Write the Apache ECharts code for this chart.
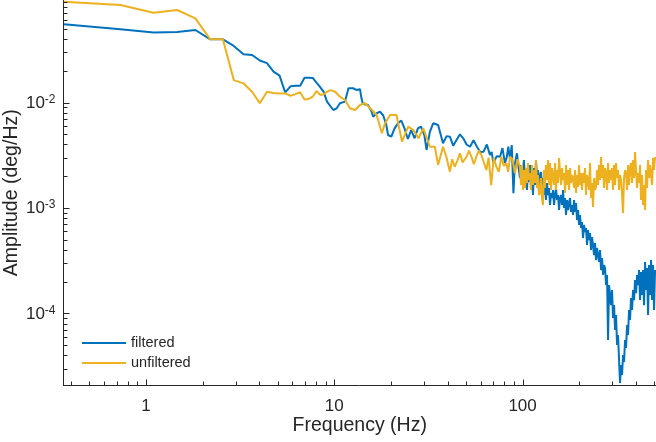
<!DOCTYPE html>
<html>
<head>
<meta charset="utf-8">
<script src="https://cdn.jsdelivr.net/npm/echarts@6/dist/echarts.min.js"></script>
<style>html,body{margin:0;padding:0;background:#fff;}#chart{width:656px;height:442px;}</style>
</head>
<body>
<div id="chart"></div>
<script>
// ---- data ----
const lowFreq = [0.366,0.732,1.098,1.464,1.830,2.196,2.562,2.928,3.294,3.660,4.026,4.392,4.758,5.124,5.490,5.856,6.222,6.588,6.954,7.320,7.686,8.052,8.418,8.784,9.150];
const filteredLowAmp = [0.0551,0.0494,0.0462,0.0466,0.0487,0.0397,0.0397,0.0344,0.0287,0.0282,0.0250,0.0236,0.0196,0.0180,0.01245,0.01425,0.0144,0.0144,0.0172,0.0172,0.0171,0.0154,0.0140,0.0126,0.0102];
const unfilteredLowAmp = [0.0901,0.0839,0.0710,0.0753,0.0628,0.0397,0.0397,0.0163,0.0152,0.01265,0.00983,0.01265,0.0123,0.0122,0.0122,0.0116,0.0120,0.0125,0.0107,0.0108,0.01135,0.01286,0.0118,0.0120,0.0126];

const filteredMidFreq = [9.88,10.3,10.72,11.4,11.9,12.1,12.6,13.1,13.7,13.95,14.2,15.1,15.8,16.1,16.8,17.5,18.2,18.9,19.3,20.1,20.9,21.8,22.7,23.6,24.6,25.6,26.7,27.8,28.9,30.1,30.9,32.2,33.5,35.6,37.8,39.5,41.1,42.8,44.6,46.5,48.4,50.4,52.6,54.9,57.2,59.6,62.1,64.6,67.1,68.5,70.0,72.9,75.9,78.2,80.6,82.3,84.0,85.7,87.6,89.4,91.0,93.3,95.0];
const filteredMidAmp = [0.00849,0.00881,0.00983,0.0102,0.01365,0.01394,0.01365,0.01315,0.0134,0.01096,0.00968,0.00947,0.00818,0.00733,0.00791,0.00818,0.00753,0.00612,0.00492,0.00474,0.00569,0.00635,0.00675,0.00569,0.00451,0.00548,0.00458,0.00569,0.00590,0.00492,0.00355,0.00528,0.00635,0.00612,0.00410,0.00480,0.00474,0.00390,0.00441,0.00500,0.00458,0.00400,0.00381,0.00440,0.00381,0.00340,0.00342,0.00400,0.00318,0.00340,0.00266,0.00310,0.00306,0.00370,0.00266,0.00300,0.00381,0.00290,0.00395,0.00138,0.00260,0.00330,0.00250];

const unfilteredMidFreq = [9.52,10.1,10.72,11.4,12.11,12.9,13.7,14.6,15.5,16.8,17.9,18.6,19.8,21.4,22.9,24.7,26.3,28.0,29.7,32.2,34.2,35.6,37.8,39.5,41.1,42.3,43.6,45.0,46.5,48.0,50.4,51.9,53.5,55.1,56.8,58.5,60.4,62.3,64.2,66.0,68.1,70.3,72.6,74.8,77.1,79.5,82.0,83.8,85.7,88.3,91.1,93.9];
const unfilteredMidAmp = [0.0131,0.01265,0.01135,0.01057,0.00881,0.00849,0.00947,0.00983,0.00881,0.00762,0.00511,0.00636,0.00762,0.00762,0.00425,0.00590,0.00548,0.00458,0.00569,0.00381,0.00381,0.00256,0.00381,0.00300,0.00221,0.00290,0.00246,0.00280,0.00330,0.00270,0.00306,0.00350,0.00306,0.00260,0.00306,0.00350,0.00318,0.00270,0.00229,0.00300,0.00165,0.00300,0.00246,0.00220,0.00306,0.00250,0.00266,0.00220,0.00306,0.00290,0.00213,0.00290];

const highFreq = [96.9,98.1,99.3,100.5,101.7,103.0,104.2,105.5,106.8,108.1,
109.5,110.8,112.2,113.6,115.0,116.4,117.8,119.3,120.7,122.2,
123.7,125.2,126.8,128.3,129.9,131.5,133.1,134.8,136.4,138.1,
139.9,141.6,143.3,145.1,146.9,148.7,150.5,152.4,154.3,156.2,
158.1,160.0,162.0,164.0,166.0,168.1,170.1,172.2,174.4,176.5,
178.6,180.8,183.1,185.3,187.6,189.9,192.3,194.6,197.0,199.5,
201.8,204.3,206.8,209.4,212.0,214.6,217.2,219.9,222.6,225.3,
228.1,230.9,233.8,236.6,239.6,242.5,245.5,248.5,251.6,254.7,
257.8,261.0,264.2,267.5,270.7,274.1,277.4,280.8,284.3,287.8,
291.3,294.9,298.6,302.2,306.0,309.7,313.5,317.4,321.3,325.3,
329.2,333.3,337.4,341.5,345.7,350.0,354.3,358.7,363.1,367.5,
372.0,376.6,381.3,386.0,390.7,395.5,400.4,405.3,410.3,415.4,
420.4,425.6,430.9,436.2,441.5,447.0,452.5,458.1,463.7,469.4,
475.1,481.0,486.9,492.9,499.0,505.0];
const unfilteredHighAmp = [0.002446,0.001652,0.002556,0.001481,0.002292,0.001547,0.002393,0.001726,0.002669,0.001842,
0.002147,0.001481,0.002556,0.001652,0.002292,0.001726,0.002851,0.001547,0.002055,0.001328,
0.001388,0.001925,0.001244,0.001068,0.002292,0.001547,0.002556,0.001842,0.002851,0.001652,
0.002669,0.001481,0.002393,0.002446,0.001652,0.002669,0.001481,0.002292,0.001726,0.002978,
0.002851,0.001652,0.002393,0.001842,0.002147,0.001388,0.002556,0.001652,0.002292,0.001481,
0.002393,0.001726,0.002055,0.001925,0.001547,0.002292,0.001388,0.002055,0.001581,0.002556,
0.001652,0.002147,0.001481,0.002147,0.001726,0.002393,0.001328,0.002055,0.001842,0.001481,
0.002669,0.001244,0.001726,0.001022,0.001925,0.001481,0.001581,0.002292,0.001652,0.002556,
0.001842,0.003044,0.001925,0.002556,0.001547,0.002393,0.002147,0.001481,0.002669,0.001726,
0.002292,0.001842,0.002393,0.001481,0.002556,0.001652,0.002669,0.001925,0.002292,0.001481,
0.002055,0.001842,0.001328,0.000897,0.001925,0.002292,0.002147,0.001481,0.002556,0.001652,
0.002393,0.002669,0.001726,0.002851,0.001925,0.003395,0.002292,0.001547,0.002147,0.001726,
0.002556,0.001191,0.002055,0.001068,0.001652,0.000957,0.002292,0.001547,0.002851,0.001925,
0.002556,0.002669,0.001652,0.002978,0.002292,0.003044];
const filteredHighAmp = [0.001925,0.002556,0.001652,0.002292,0.002851,0.001842,0.002393,0.001481,0.002194,0.001764,
0.002556,0.001547,0.001925,0.001328,0.002393,0.001652,0.002851,0.001925,0.002292,0.001481,
0.002055,0.002194,0.001652,0.001925,0.001328,0.001652,0.001191,0.001726,0.001328,0.001547,
0.001068,0.001388,0.001244,0.001481,0.001068,0.001328,0.001547,0.001191,0.001328,0.000957,
0.001244,0.001328,0.001068,0.001481,0.001000,0.001244,0.000859,0.001191,0.000957,0.001115,
0.001244,0.000917,0.001068,0.000859,0.001191,0.000917,0.001115,0.000769,0.000957,0.000690,
0.000859,0.000646,0.000737,0.000519,0.000690,0.000592,0.000646,0.000446,0.000619,0.000497,
0.000579,0.000400,0.000531,0.000446,0.000358,0.000466,0.000321,0.000418,0.000358,0.000308,
0.000400,0.000258,0.000336,0.000232,0.000288,0.000270,0.000186,0.000232,0.0000561,0.000186,
0.000150,0.000120,0.000167,0.0000906,0.000120,0.0000698,0.0000968,0.0000503,0.0000625,0.0000362,
0.0000219,0.0000325,0.0000261,0.0000404,0.0000347,0.0000561,0.0000471,0.0000778,0.0000625,0.000108,
0.0000868,0.000140,0.000108,0.000167,0.000134,0.000208,0.000156,0.000232,0.000186,0.000258,
0.000134,0.000247,0.000150,0.000258,0.000120,0.000308,0.000167,0.000270,0.0000968,0.000288,
0.000150,0.000321,0.000134,0.000288,0.000108,0.000258];

const xTickValues = [0.4,0.5,0.6,0.7,0.8,0.9,1,2,3,4,5,6,7,8,9,10,20,30,40,50,60,70,80,90,100,200,300,400,500];
const yTickValues = [3e-5,4e-5,5e-5,6e-5,7e-5,8e-5,9e-5,1e-4,2e-4,3e-4,4e-4,5e-4,6e-4,7e-4,8e-4,9e-4,1e-3,2e-3,3e-3,4e-3,5e-3,6e-3,7e-3,8e-3,9e-3,1e-2,2e-2,3e-2,4e-2,5e-2,6e-2,7e-2,8e-2,9e-2];

const X_MIN = 0.365, X_MAX = 511, Y_MIN = 2.077e-5, Y_MAX = 0.0937;
const FONT = '"Liberation Sans", Arial, Helvetica, sans-serif';
const AXIS_COLOR = '#262626';

function zip(fs, as) { return fs.map((f, i) => [f, as[i]]); }
const filteredData = zip(lowFreq, filteredLowAmp).concat(zip(filteredMidFreq, filteredMidAmp), zip(highFreq, filteredHighAmp));
const unfilteredData = zip(lowFreq, unfilteredLowAmp).concat(zip(unfilteredMidFreq, unfilteredMidAmp), zip(highFreq, unfilteredHighAmp));

function isPow10(v) { const l = Math.log10(v); return Math.abs(l - Math.round(l)) < 1e-6; }

const chart = echarts.init(document.getElementById('chart'), null, { renderer: 'canvas' });
chart.setOption({
  animation: false,
  backgroundColor: '#ffffff',
  grid: { left: 63.5, right: 0, top: 0, bottom: 56.5, containLabel: false, outerBoundsMode: 'none' },
  legend: {
    data: [{ name: 'filtered', icon: 'rect' }, { name: 'unfiltered', icon: 'rect' }],
    orient: 'vertical', left: 82, top: 335.5, padding: 0,
    itemWidth: 44, itemHeight: 2, itemGap: 5,
    textStyle: { fontSize: 14.5, color: AXIS_COLOR, fontFamily: FONT }
  },
  xAxis: {
    type: 'log', logBase: 10, min: X_MIN, max: X_MAX,
    axisLine: { show: true, onZero: false, lineStyle: { color: AXIS_COLOR, width: 1 } },
    axisTick: { show: false }, minorTick: { show: false }, splitLine: { show: false },
    axisLabel: {
      color: AXIS_COLOR, fontSize: 17, fontFamily: FONT, margin: 12,
      showMinLabel: false, showMaxLabel: false,
      formatter: v => isPow10(v) ? String(Math.round(v)) : ''
    },
    name: 'Frequency (Hz)', nameLocation: 'middle', nameGap: 30.5, nameMoveOverlap: false,
    nameTextStyle: { fontSize: 19.5, color: AXIS_COLOR, fontFamily: FONT }
  },
  yAxis: {
    type: 'log', logBase: 10, min: Y_MIN, max: Y_MAX,
    axisLine: { show: true, onZero: false, lineStyle: { color: AXIS_COLOR, width: 1 } },
    axisTick: { show: false }, minorTick: { show: false }, splitLine: { show: false },
    axisLabel: {
      color: AXIS_COLOR, fontFamily: FONT, margin: 8,
      showMinLabel: false, showMaxLabel: false,
      formatter: v => isPow10(v) ? '{b|10}{s|' + Math.round(Math.log10(v)) + '}' : '',
      rich: {
        b: { fontSize: 17, fontFamily: FONT, color: AXIS_COLOR, verticalAlign: 'bottom', lineHeight: 18, padding: [6, 0, 0, 0] },
        s: { fontSize: 12, fontFamily: FONT, color: AXIS_COLOR, verticalAlign: 'top', lineHeight: 12 }
      }
    },
    name: 'Amplitude (deg/Hz)', nameLocation: 'middle', nameGap: 42, nameMoveOverlap: false,
    nameTextStyle: { fontSize: 19.5, color: AXIS_COLOR, fontFamily: FONT }
  },
  series: [
    {
      name: 'filtered', type: 'line', data: filteredData, symbol: 'none', showSymbol: false,
      lineStyle: { color: '#0072BD', width: 2 }, itemStyle: { color: '#0072BD' },
      sampling: null, z: 2
    },
    {
      name: 'unfiltered', type: 'line', data: unfilteredData, symbol: 'none', showSymbol: false,
      lineStyle: { color: '#EDB120', width: 2 }, itemStyle: { color: '#EDB120' },
      sampling: null, z: 3
    },
    {
      name: 'xticks', type: 'custom', silent: true, z: 10, clip: false,
      data: xTickValues.map(v => [v, Y_MIN]), encode: { x: 0, y: 1 },
      renderItem: (params, api) => {
        const v = api.value(0);
        const p = api.coord([v, Y_MIN]);
        const len = isPow10(v) ? 6 : 4;
        const x = Math.round(p[0]) + 0.5;
        return { type: 'line', shape: { x1: x, y1: p[1], x2: x, y2: p[1] - len }, style: { stroke: AXIS_COLOR, lineWidth: 1 } };
      }
    },
    {
      name: 'yticks', type: 'custom', silent: true, z: 10, clip: false,
      data: yTickValues.map(v => [X_MIN, v]), encode: { x: 0, y: 1 },
      renderItem: (params, api) => {
        const v = api.value(1);
        const p = api.coord([X_MIN, v]);
        const len = isPow10(v) ? 6 : 4;
        const y = Math.round(p[1]) + 0.5;
        return { type: 'line', shape: { x1: p[0], y1: y, x2: p[0] + len, y2: y }, style: { stroke: AXIS_COLOR, lineWidth: 1 } };
      }
    }
  ]
});
</script>
</body>
</html>
